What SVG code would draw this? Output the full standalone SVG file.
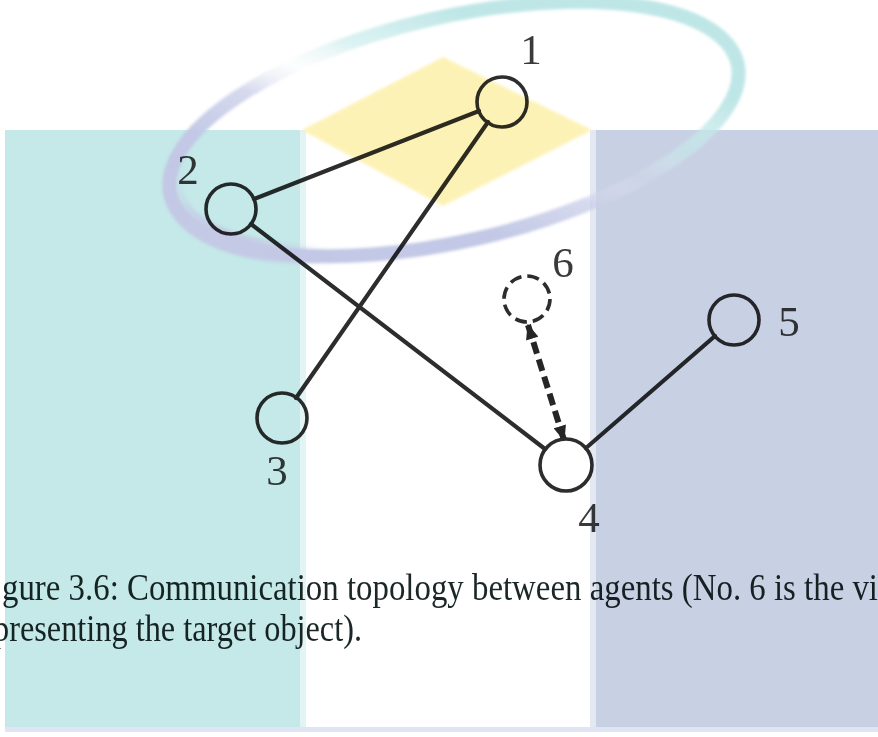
<svg xmlns="http://www.w3.org/2000/svg" width="878" height="737" viewBox="0 0 878 737">
  <defs>
    <style>
      .edge { stroke: #2d2d2d; stroke-width: 4.2; fill: none; stroke-linecap: round; }
      .link { stroke: #262626; stroke-width: 6; fill: none; stroke-dasharray: 12 6; }
      .node { fill: none; stroke: #2d2d2d; stroke-width: 3.6; }
      .ghost { fill: none; stroke: #2d2d2d; stroke-width: 3.6; stroke-dasharray: 12 6; }
      .num { font-family: "Liberation Serif", "DejaVu Serif", serif; font-size: 43px; fill: #3a3a3a; text-anchor: middle; }
      .cap { font-family: "Liberation Serif", "Times New Roman", serif; font-size: 37px; fill: #1b2626; }
      .ink { mix-blend-mode: multiply; }
    </style>
    <!-- ring colour: lavender on the lower-left half, teal on the upper-right half, fading out between -->
    <linearGradient id="ringGrad" x1="410" y1="206" x2="514" y2="34" gradientUnits="userSpaceOnUse">
      <stop offset="0" stop-color="#c2c8e5" stop-opacity="1"/>
      <stop offset="0.3" stop-color="#c8cde8" stop-opacity="0.75"/>
      <stop offset="0.5" stop-color="#e6eef2" stop-opacity="0.1"/>
      <stop offset="0.68" stop-color="#c6eaea" stop-opacity="0.6"/>
      <stop offset="1" stop-color="#bfe6e6" stop-opacity="1"/>
    </linearGradient>
    <filter id="soft" x="-10%" y="-10%" width="120%" height="120%">
      <feGaussianBlur stdDeviation="1.6"/>
    </filter>
    <filter id="wide" x="-50%" y="-50%" width="200%" height="200%">
      <feGaussianBlur stdDeviation="25"/>
    </filter>
    <mask id="leftEnd" maskUnits="userSpaceOnUse" x="0" y="0" width="878" height="737">
      <ellipse cx="190" cy="200" rx="70" ry="60" fill="#fff" filter="url(#wide)"/>
    </mask>
    <marker id="tip" viewBox="0 0 12 10" refX="11" refY="5" markerWidth="16" markerHeight="13" orient="auto-start-reverse" markerUnits="userSpaceOnUse">
      <path d="M0,0 L12,5 L0,10 Z" fill="#262626"/>
    </marker>
  </defs>

  <rect width="878" height="737" fill="#ffffff"/>

  <!-- background panels -->
  <g id="backdrop">
    <rect x="5" y="130" width="295" height="597" fill="#c4e9e8"/>
    <rect x="300" y="130" width="6" height="597" fill="#e2f4f4"/>
    <rect x="596" y="130" width="282" height="597" fill="#c8d0e4"/>
    <rect x="590" y="130" width="6" height="597" fill="#e4e8f3"/>
    <rect x="5" y="727" width="873" height="5" fill="#d9ddef" opacity="0.8"/>
    <polygon points="443,57 592,130 443,206 302,130" fill="#fdf2b6" filter="url(#soft)"/>
    <g filter="url(#soft)">
      <ellipse cx="454" cy="129" rx="291" ry="112" transform="rotate(-13 454 129)" fill="none" stroke="url(#ringGrad)" stroke-width="14"/>
      <ellipse cx="457" cy="129" rx="291" ry="112" transform="rotate(-13 454 129)" fill="none" stroke="#c4c9e5" stroke-width="22" mask="url(#leftEnd)"/>
    </g>
  </g>

  <g class="ink">
    <!-- connectors -->
    <g id="edges">
      <line class="edge" x1="254" y1="199" x2="479" y2="111"/>
      <line class="edge" x1="296" y1="398" x2="488" y2="122"/>
      <line class="edge" x1="251" y1="224" x2="545" y2="449"/>
      <line class="edge" x1="586" y1="448" x2="715" y2="336"/>
      <line class="link" x1="528" y1="325" x2="564" y2="440" marker-start="url(#tip)" marker-end="url(#tip)"/>
    </g>

    <!-- agents -->
    <g id="node1">
      <circle class="node" cx="502" cy="102" r="25"/>
      <text class="num" x="531" y="64">1</text>
    </g>
    <g id="node2">
      <circle class="node" cx="231" cy="209" r="25"/>
      <text class="num" x="188" y="184">2</text>
    </g>
    <g id="node3">
      <circle class="node" cx="282" cy="418" r="25"/>
      <text class="num" x="277" y="485">3</text>
    </g>
    <g id="node4">
      <circle class="node" cx="566" cy="465" r="26"/>
      <text class="num" x="589" y="532">4</text>
    </g>
    <g id="node5">
      <circle class="node" cx="734" cy="320" r="25"/>
      <text class="num" x="789" y="336">5</text>
    </g>
    <g id="node6">
      <circle class="ghost" cx="527" cy="299" r="23"/>
      <text class="num" x="563" y="277">6</text>
    </g>

    <!-- caption -->
    <g id="caption">
      <text class="cap" x="2" y="600" textLength="876" lengthAdjust="spacingAndGlyphs">gure 3.6: Communication topology between agents (No. 6 is the vi</text>
      <text class="cap" x="-7" y="641" textLength="369" lengthAdjust="spacingAndGlyphs">presenting the target object).</text>
    </g>
  </g>
</svg>
